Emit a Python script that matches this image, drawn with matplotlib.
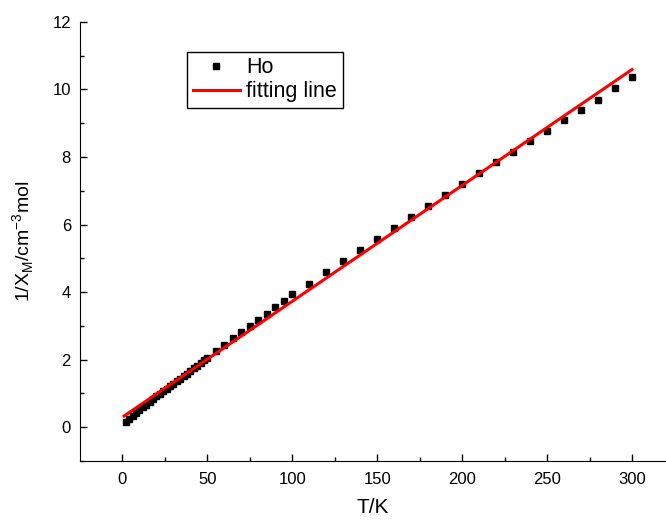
import matplotlib
matplotlib.use("Agg")
import matplotlib.pyplot as plt

plt.rcParams['font.family'] = ['Liberation Sans', 'DejaVu Sans']
plt.rcParams['mathtext.fontset'] = 'custom'
plt.rcParams['mathtext.rm'] = 'Liberation Sans'

# datos medidos (Ho)
T = [2, 4, 6, 8, 10, 12, 14, 16, 18, 20, 22, 24, 26, 28, 30, 32, 34, 36, 38, 40,
     42, 44, 46, 48, 50, 55, 60, 65, 70, 75, 80, 85, 90, 95, 100,
     110, 120, 130, 140, 150, 160, 170, 180, 190, 200,
     210, 220, 230, 240, 250, 260, 270, 280, 290, 300]
inv_chi = [0.15, 0.24, 0.33, 0.42, 0.51, 0.59, 0.67, 0.75, 0.83, 0.91, 0.99, 1.07, 1.14, 1.21, 1.29,
           1.36, 1.43, 1.51, 1.58, 1.66, 1.74, 1.82, 1.90, 1.98, 2.06, 2.25, 2.44, 2.63, 2.81,
           2.99, 3.17, 3.36, 3.55, 3.74, 3.93,
           4.25, 4.60, 4.92, 5.25, 5.58, 5.90, 6.22, 6.55, 6.88, 7.20,
           7.52, 7.85, 8.15, 8.47, 8.78, 9.10, 9.40, 9.70, 10.03, 10.38]

# recta de ajuste
fit_T = [1, 300]
fit_y = [0.33, 10.59]

fig = plt.figure(figsize=(6.66, 5.22), dpi=100)
ax = fig.add_axes([0.12, 0.117, 0.88, 0.841])

ax.plot(T, inv_chi, 's', color='black', markersize=5, label='Ho')
ax.plot(fit_T, fit_y, '-', color='red', linewidth=2.2, label='fitting line')

ax.set_xlim(-25, 320)
ax.set_ylim(-1, 12)
ax.set_xticks([0, 50, 100, 150, 200, 250, 300])
ax.set_xticks([25, 75, 125, 175, 225, 275], minor=True)
ax.set_yticks([0, 2, 4, 6, 8, 10, 12])
ax.set_yticks([-1, 1, 3, 5, 7, 9, 11], minor=True)
ax.tick_params(which='both', direction='in', labelsize=12, width=1)
ax.tick_params(axis='x', which='both', pad=8)
ax.tick_params(axis='y', which='both', pad=6.5)
ax.tick_params(which='major', length=5)
ax.tick_params(which='minor', length=3)
ax.spines['top'].set_visible(False)
ax.spines['right'].set_visible(False)

ax.set_xlabel('T/K', fontsize=15, labelpad=8)
ax.set_ylabel('1/X$_\\mathregular{M}$/cm$^\\mathregular{-3}$mol', fontsize=14, labelpad=12)

leg = ax.legend(loc='upper left', bbox_to_anchor=(0.183, 0.932), borderaxespad=0,
                fontsize=15.5, fancybox=False, framealpha=1, edgecolor='black',
                handlelength=2.2, handletextpad=0.3, borderpad=0.25, labelspacing=0.15)
leg.get_frame().set_linewidth(1)

fig.savefig('out.png', dpi=100)
